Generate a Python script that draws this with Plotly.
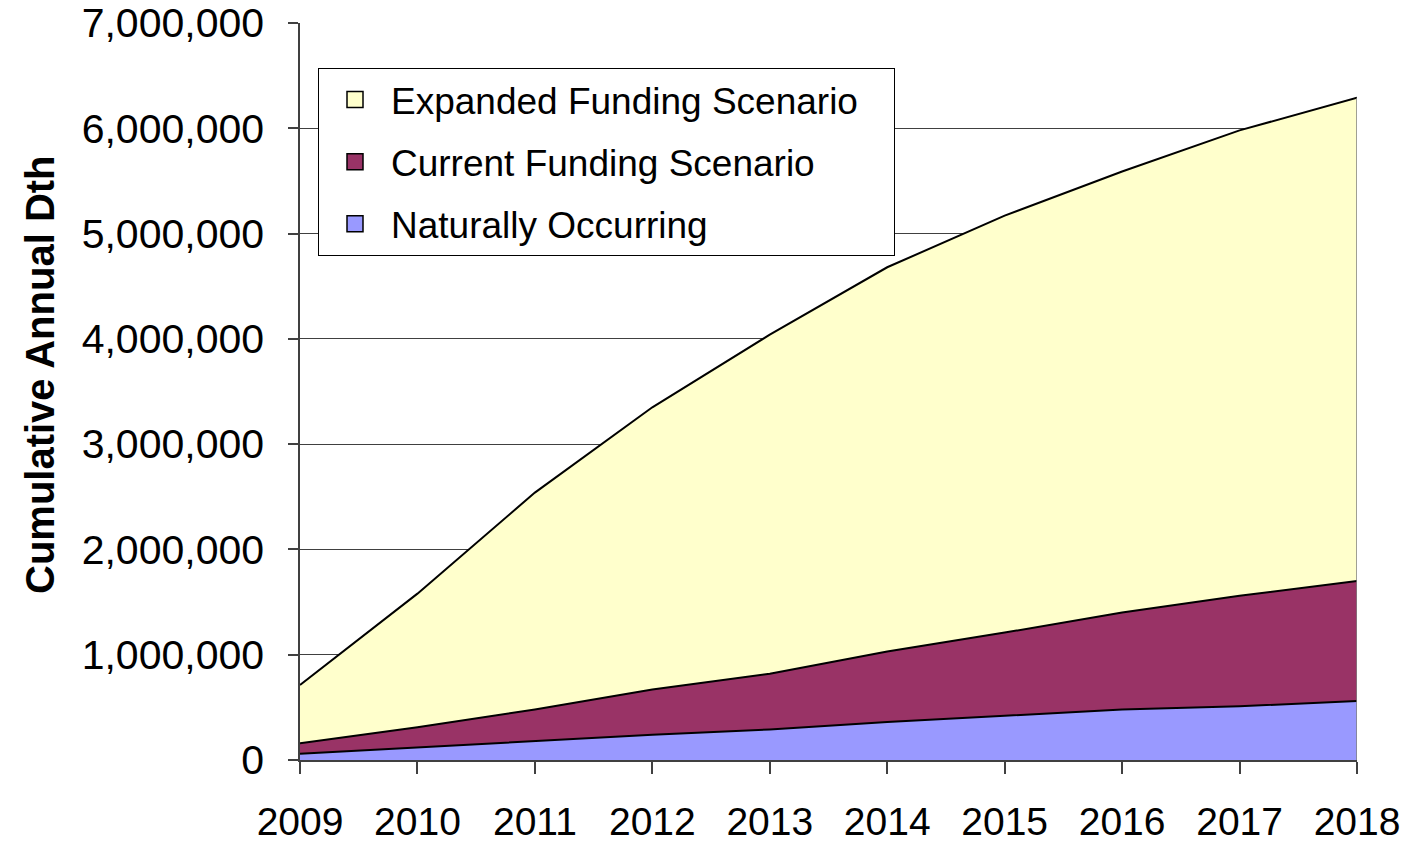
import plotly.graph_objects as go

years = [2009, 2010, 2011, 2012, 2013, 2014, 2015, 2016, 2017, 2018]
naturally = [60000, 120000, 180000, 240000, 290000, 360000, 420000, 480000, 510000, 560000]
current = [100000, 190000, 300000, 430000, 530000, 670000, 790000, 920000, 1050000, 1140000]
expanded = [553000, 1270000, 2060000, 2680000, 3220000, 3650000, 3960000, 4190000, 4420000, 4590000]

names = ["Naturally Occurring", "Current Funding Scenario", "Expanded Funding Scenario"]
colors = ["#9999FF", "#993366", "#FFFFCC"]
series = [naturally, current, expanded]

FONT = "Liberation Sans, Arial, sans-serif"
PAD = "\u00a0" * 3  # right padding inside the legend box

fig = go.Figure()
for name, col, vals in zip(names, colors, series):
    fig.add_trace(go.Scatter(
        x=years, y=vals, name=name, stackgroup="one", mode="lines",
        line=dict(color="black", width=2), fillcolor=col, showlegend=False,
        hoverinfo="skip",
    ))

# legend entries (square swatches), top to bottom
for i, (name, col) in enumerate(zip(names[::-1], colors[::-1])):
    fig.add_trace(go.Scatter(
        x=[None], y=[None], mode="markers", name=name + PAD,
        marker=dict(symbol="square", size=16, color=col, line=dict(color="black", width=1.5)),
        legendgroup=f"g{i}",
    ))

totals = [a + b + c for a, b, c in zip(naturally, current, expanded)]
fig.add_shape(type="line", x0=years[-1], x1=years[-1], y0=0, y1=totals[-1],
              xref="x", yref="y", line=dict(color="#808080", width=1.5))

fig.update_layout(
    width=1408, height=845,
    margin=dict(l=300, r=51, t=23, b=85, autoexpand=False),
    paper_bgcolor="white", plot_bgcolor="white",
    font=dict(family=FONT, color="black"),
    legend=dict(
        x=(318 - 300) / 1057, y=(760 - 68) / 737, xanchor="left", yanchor="top",
        bgcolor="white", bordercolor="black", borderwidth=1,
        font=dict(size=37, family=FONT, color="black"),
        traceorder="grouped", tracegroupgap=11,
        itemsizing="trace", itemwidth=62,
    ),
    annotations=[dict(
        text="<b>Cumulative Annual Dth</b>", textangle=-90,
        xref="paper", yref="paper", x=(40 - 300) / 1057, y=(760 - 375) / 737,
        xanchor="center", yanchor="middle", showarrow=False,
        font=dict(size=40, family=FONT, color="black"),
    )],
)

fig.update_xaxes(
    range=[years[0], years[-1]], tickmode="array", tickvals=years,
    ticktext=[str(y) for y in years], automargin=False,
    showgrid=False, zeroline=False,
    showline=True, linecolor="#404040", linewidth=1.5,
    ticks="outside", ticklen=12, tickcolor="#404040", tickwidth=1.5,
    tickfont=dict(size=39, family=FONT, color="black"),
    ticklabelstandoff=14,
)
fig.update_yaxes(
    range=[0, 7000000], tickmode="linear", tick0=0, dtick=1000000,
    tickformat=",d", automargin=False,
    showgrid=True, gridcolor="#404040", gridwidth=1,
    zeroline=False,
    showline=True, linecolor="#404040", linewidth=1.5,
    ticks="outside", ticklen=10, tickcolor="#404040", tickwidth=1.5,
    tickfont=dict(size=41, family=FONT, color="black"),
    ticklabelstandoff=16,
)

fig.write_html("out.html")
